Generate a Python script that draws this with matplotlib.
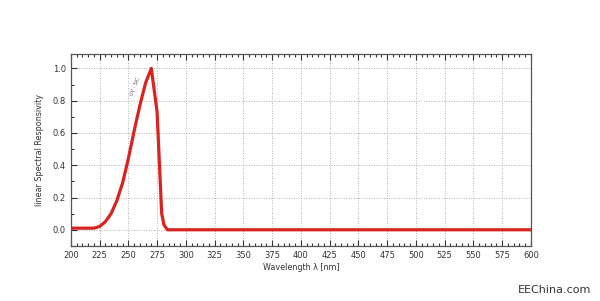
import numpy as np
import matplotlib
matplotlib.use("Agg")
import matplotlib.pyplot as plt
from matplotlib.ticker import MultipleLocator

# spectral responsivity
wavelength = [200, 210, 220, 225, 230, 235, 240, 245, 250, 255, 260, 265,
              270, 275, 279, 281, 284, 300, 400, 500, 600]
response = [0.01, 0.01, 0.01, 0.02, 0.05, 0.10, 0.18, 0.29, 0.44, 0.61,
            0.77, 0.91, 1.00, 0.73, 0.10, 0.03, 0.0, 0.0, 0.0, 0.0, 0.0]

xticks = np.arange(200, 601, 25)
yticks = [0.0, 0.2, 0.4, 0.6, 0.8, 1.0]

fig = plt.figure(figsize=(6.0, 3.01), dpi=100)
ax = fig.add_axes([0.118, 0.183, 0.767, 0.638])

ax.plot(wavelength, response, color="#d8231f", lw=2.3, solid_joinstyle="round")

ax.set_xlim(200, 600)
ax.set_ylim(-0.1, 1.09)
ax.set_xticks(xticks)
ax.set_yticks(yticks)
ax.set_yticklabels([f"{v:.1f}" for v in yticks])
ax.xaxis.set_minor_locator(MultipleLocator(5))
ax.yaxis.set_minor_locator(MultipleLocator(0.1))
ax.tick_params(which="both", direction="in", top=True, right=False,
               labelsize=6, colors="#333333", width=0.8)
ax.tick_params(which="major", length=4)
ax.tick_params(which="minor", length=2.2)
for s in ax.spines.values():
    s.set_color("#555555")
    s.set_linewidth(0.9)
ax.grid(True, which="major", ls=(0, (1, 2)), color="#999999", lw=0.6)

ax.set_xlabel("Wavelength \u03bb [nm]", fontsize=5.8, color="#333333", labelpad=2)
ax.set_ylabel("linear Spectral Responsivity", fontsize=5.8, color="#333333", labelpad=6)

ax.text(256, 0.89, "UV - SiC", rotation=68, fontsize=3.5, color="#555555",
        ha="center", va="center")

fig.text(0.985, 0.02, "EEChina.com", fontsize=8, color="#333333", ha="right", va="bottom")

fig.savefig("out.png", dpi=100)
